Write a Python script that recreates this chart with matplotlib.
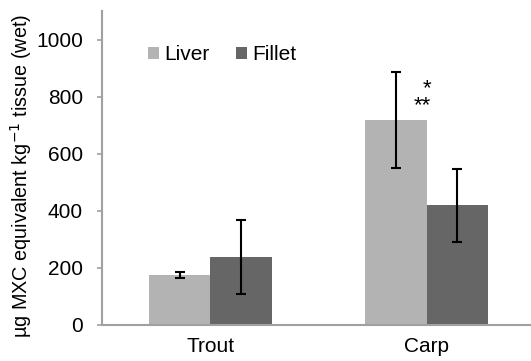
import matplotlib
matplotlib.use('Agg')
import matplotlib.pyplot as plt
import numpy as np

plt.rcParams['font.family'] = ['Liberation Sans', 'DejaVu Sans']

species = ['Trout', 'Carp']
liver = [175, 718]
liver_err = [10, 168]
fillet = [239, 420]
fillet_err = [130, 128]
yticks = [0, 200, 400, 600, 800, 1000]

grey_axis = '#a0a0a0'
fig = plt.figure(figsize=(5.31, 3.61), dpi=100)
# axes placed in pixel terms: left 102, bottom at y=325, 433 wide, 314 tall
ax = fig.add_axes([102/531, 1-325/361, 433/531, 314/361])

x = np.arange(len(species))
w = 0.284
ekw = dict(ecolor='black', elinewidth=1.5, capsize=3.6, capthick=1.5)
ax.bar(x - w/2, liver, w, color='#b3b3b3', label='Liver', yerr=liver_err, error_kw=ekw)
ax.bar(x + w/2, fillet, w, color='#666666', label='Fillet', yerr=fillet_err, error_kw=ekw)

# significance marks
ax.text(x[1] + 0.02, 797, '*\n**', ha='right', va='center', multialignment='right',
        fontsize=16, linespacing=0.75)

ax.set_xlim(-0.5, 1.5)
ax.set_ylim(0, 1100)
ax.set_yticks(yticks)
ax.set_xticks(x)
ax.set_xticklabels(species, fontsize=15)
ax.tick_params(axis='x', length=0, pad=9)
ax.tick_params(axis='y', direction='out', length=3.6, width=1.2, color=grey_axis,
               labelsize=15, pad=10)
for s in ['top', 'right']:
    ax.spines[s].set_visible(False)
for s in ['left', 'bottom']:
    ax.spines[s].set_color(grey_axis)
    ax.spines[s].set_linewidth(1.5)

ax.set_ylabel('µg MXC equivalent kg$^{-1}$ tissue (wet)', fontsize=14.3)
ax.yaxis.set_label_coords(-0.157, 0.476)

ax.legend(loc='center left', bbox_to_anchor=(0.107, 0.86), ncol=2, frameon=False,
          fontsize=15, borderpad=0, borderaxespad=0, handlelength=0.5, handleheight=0.5,
          handletextpad=0.25, columnspacing=1.3)

plt.savefig('out.png', dpi=100)
